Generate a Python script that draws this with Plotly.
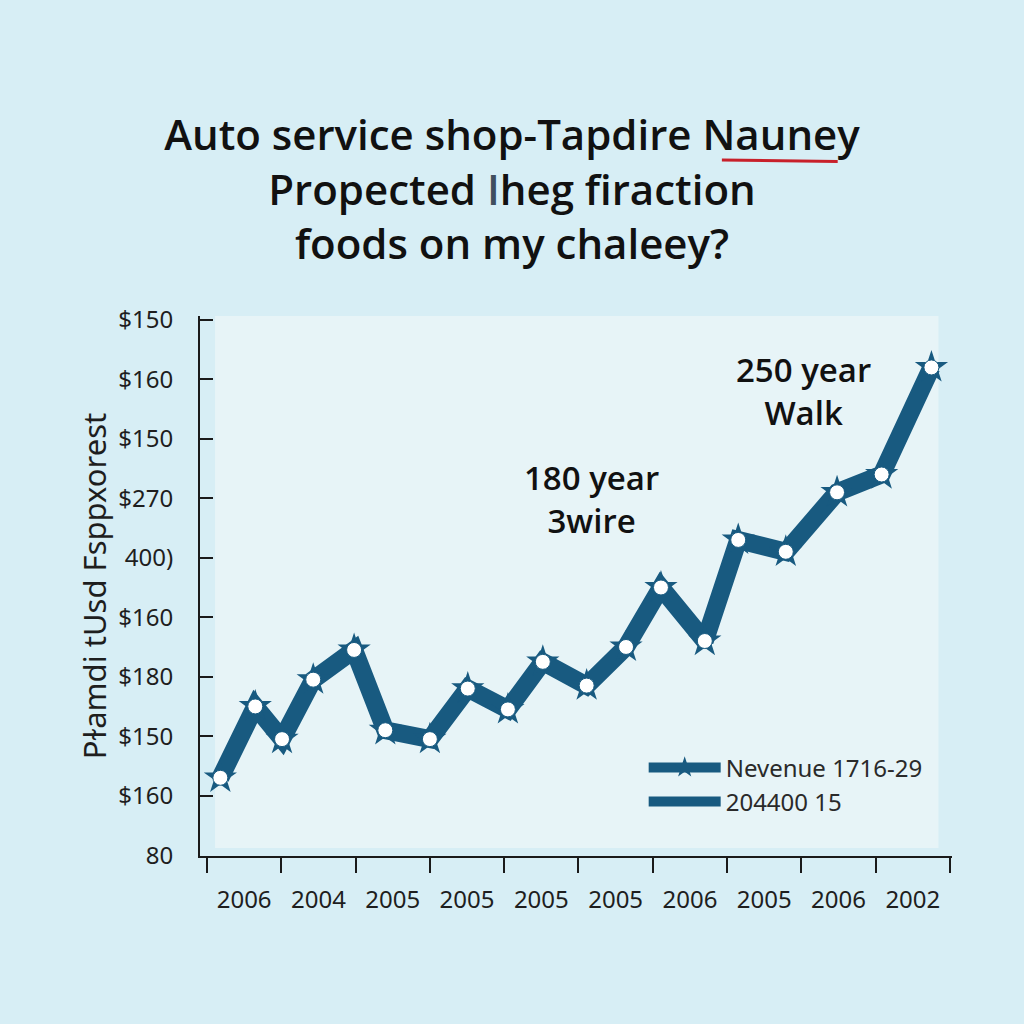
import plotly.graph_objects as go

# ---- data ----
period = [0.18, 0.65, 1.01, 1.43, 1.98, 2.40, 3.00, 3.51, 4.05, 4.52,
          5.11, 5.64, 6.11, 6.70, 7.15, 7.79, 8.48, 9.08, 9.75]
revenue = [106, 130, 119, 139, 149, 122, 119, 136, 129, 145,
           137, 150, 170, 152, 186, 182, 202, 208, 244]

y_tickvals = [80, 100, 120, 140, 160, 180, 200, 220, 240, 260]
y_ticktext = ["80", "$160", "$150", "$180", "$160", "400)", "$270", "$150", "$160", "$150"]

x_tick_marks = [0, 1, 2, 3, 4, 5, 6, 7, 8, 9, 10]
x_label_pos = [0.5, 1.5, 2.5, 3.5, 4.5, 5.5, 6.5, 7.5, 8.5, 9.5]
x_ticktext = ["2006", "2004", "2005", "2005", "2005", "2005", "2006", "2005", "2006", "2002"]

series_names = ["Nevenue 1716-29", "204400 15"]

LINE = "#185a80"
PAPER = "#d7eef5"
PLOT = "#e7f4f7"
TXT = "#1e1e1e"
HEAD = "Open Sans"

fig = go.Figure()

fig.add_trace(go.Scatter(
    x=period, y=revenue, mode="lines+markers", name=series_names[0],
    line=dict(color=LINE, width=18),
    marker=dict(symbol="star", size=25, color=LINE),
))
fig.add_trace(go.Scatter(
    x=period, y=revenue, mode="markers", showlegend=False, hoverinfo="skip",
    marker=dict(symbol="circle", size=15, color="white",
                line=dict(color=LINE, width=1)),
))
fig.add_trace(go.Scatter(
    x=[None], y=[None], mode="lines", name=series_names[1],
    line=dict(color=LINE, width=14),
))

fig.update_layout(
    width=1024, height=1024,
    margin=dict(l=200, r=72, t=316, b=168),
    paper_bgcolor=PAPER, plot_bgcolor=PAPER,
    font=dict(family="Noto Sans", color=TXT),
    title=dict(
        text="Auto service shop-Tapdire Nauney<br>Propected <span style='color:#3f4f5e'>I</span>heg firaction<br>foods on my chaleey?",
        x=0.5, xanchor="center", y=1 - 150 / 1024, yanchor="middle",
        font=dict(family=HEAD, size=42, color="#111111", weight=600),
    ),
    showlegend=True,
    legend=dict(
        x=0.59, xanchor="left", y=0.205, yanchor="top",
        bgcolor="rgba(0,0,0,0)", itemwidth=72,
        font=dict(family="Noto Sans", size=24, color="#2a2a2a"),
        tracegroupgap=0,
    ),
    xaxis=dict(
        range=[-0.094, 10.027], showgrid=False, zeroline=False,
        showline=True, linecolor="#1a1a1a", linewidth=2,
        tickmode="array", tickvals=x_label_pos, ticktext=x_ticktext,
        ticks="", ticklabelstandoff=21,
        tickfont=dict(family="Noto Sans", size=24, color=TXT),
        minor=dict(tickmode="array", tickvals=x_tick_marks, ticks="outside",
                   ticklen=15, tickwidth=2, tickcolor="#1a1a1a", showgrid=False),
    ),
    yaxis=dict(
        range=[79.7, 261.3], showgrid=False, zeroline=False,
        showline=True, linecolor="#1a1a1a", linewidth=2,
        tickmode="array", tickvals=y_tickvals, ticktext=y_ticktext,
        ticks="inside", ticklen=13, tickwidth=2, tickcolor="#1a1a1a",
        ticklabelstandoff=20,
        tickfont=dict(family="Noto Sans", size=24, color=TXT),
        title=dict(text="Pɫamdi tUsd Fsppxorest", standoff=2,
                   font=dict(family="Noto Sans", size=31, color=TXT)),
    ),
    shapes=[
        dict(type="rect", xref="x domain", yref="y domain", x0=0.02, x1=0.982,
             y0=0.015, y1=1.0, fillcolor=PLOT, line=dict(width=0), layer="below"),
        dict(type="line", xref="paper", yref="paper", x0=0.694, x1=0.848,
             y0=1.289, y1=1.286, line=dict(color="#c8202a", width=3)),
    ],
    annotations=[
        dict(text="180 year<br>3wire", xref="paper", yref="paper", x=0.521, y=0.661,
             xanchor="center", yanchor="middle", showarrow=False,
             font=dict(family=HEAD, size=33, color="#111111", weight=600)),
        dict(text="250 year<br>Walk", xref="paper", yref="paper", x=0.802, y=0.861,
             xanchor="center", yanchor="middle", showarrow=False,
             font=dict(family=HEAD, size=33, color="#111111", weight=600)),
    ],
)

fig.write_html("out.html", config={"displayModeBar": False},
               post_script="document.body.style.margin='0';")
